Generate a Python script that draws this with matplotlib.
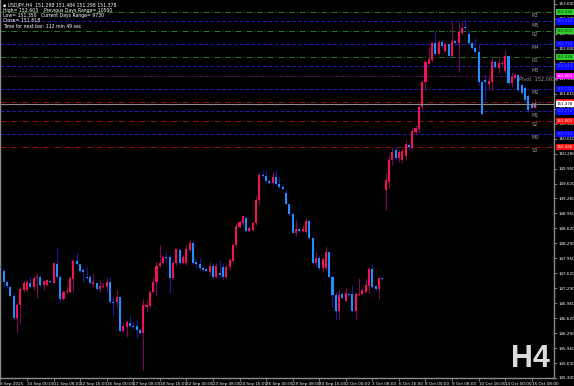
import matplotlib
matplotlib.use("Agg")
import matplotlib.pyplot as plt
import matplotlib.transforms as mtransforms
import numpy as np

# ---------------- data (USDJPY H4) ----------------
opens = [147.79,147.68,147.44,147.32,147.12,146.63,146.92,147.25,147.25,147.41,
         147.32,147.52,147.54,147.37,147.37,147.46,147.41,147.83,147.54,147.05,
         147.21,147.21,147.50,147.90,147.83,147.70,147.54,147.54,147.39,147.41,
         147.28,147.32,147.32,147.44,146.99,146.99,147.09,146.35,146.43,146.52,
         146.46,146.46,146.37,146.30,146.87,146.90,147.21,147.44,147.79,147.85,
         147.99,147.99,147.52,147.85,148.14,147.85,147.85,148.14,148.29,147.88,
         147.83,147.74,147.72,147.66,147.79,147.54,147.63,147.76,147.54,147.76,
         147.90,148.25,148.65,148.74,148.85,148.56,148.58,148.74,149.25,149.81,
         149.78,149.67,149.62,149.76,149.60,149.53,149.40,149.16,148.94,148.51,
         148.60,148.56,148.54,148.79,148.40,147.85,147.96,147.74,147.74,148.10,
         147.54,147.14,146.79,147.16,147.01,147.16,147.16,146.79,147.14,147.16,
         147.21,147.35,147.72,147.35,147.28,147.52,149.47,149.65,150.14,150.36,
         150.18,150.14,150.23,150.47,150.40,150.76,150.82,151.31,151.87,152.27,
         152.36,152.73,152.49,152.76,152.56,152.71,152.45,152.78,152.73,152.95,
         153.09,152.93,152.73,152.62,152.53,151.87,151.91,151.82,151.87,152.32,
         152.18,152.27,152.11,152.45,151.85,151.96,152.02,151.80,151.73,151.56,
         151.36,151.298]
highs = [147.88,147.74,147.48,147.37,147.18,146.99,147.32,147.48,147.48,147.54,
         147.57,147.63,147.59,147.48,147.50,147.48,147.88,148.18,147.59,147.25,
         147.35,147.57,147.94,148.07,147.85,147.74,147.76,147.59,147.61,147.44,
         147.48,147.44,147.52,147.54,147.09,147.25,147.10,146.52,146.59,146.70,
         146.55,146.59,146.41,147.05,147.03,147.25,147.54,147.88,148.25,148.03,
         148.10,148.03,147.92,148.18,148.18,148.03,148.25,148.36,148.34,147.96,
         147.96,147.79,147.74,147.88,147.85,147.85,147.92,147.85,147.81,147.96,
         148.29,148.74,148.81,148.92,148.90,148.67,148.79,149.34,149.88,149.90,
         149.92,149.72,149.88,149.94,149.76,149.58,149.49,149.18,148.96,148.81,
         148.63,148.70,148.85,148.81,148.42,148.10,148.03,147.99,148.23,148.12,
         147.59,147.21,147.25,147.21,147.32,147.18,147.37,147.21,147.52,147.30,
         147.52,147.76,147.81,147.37,147.54,147.54,149.85,150.25,150.40,150.45,
         150.36,150.40,150.58,150.51,150.85,150.91,151.36,151.91,152.36,152.64,
         152.78,152.98,152.80,152.80,152.73,152.73,153.20,152.80,153.20,153.20,
         153.27,153.02,152.76,152.84,152.73,151.91,152.02,152.02,152.42,152.36,
         152.42,152.36,152.58,152.47,152.09,152.07,152.04,151.85,151.80,151.60,
         151.42,151.484]
lows = [147.66,147.32,147.30,147.09,146.59,146.30,146.52,147.21,147.21,147.30,
        147.25,147.07,147.32,147.25,147.35,147.41,147.39,147.52,146.99,147.03,
        147.18,147.18,147.21,147.81,147.66,147.44,147.50,147.39,147.32,147.25,
        147.21,147.30,147.21,146.96,146.70,146.87,146.33,146.33,146.21,146.43,
        146.39,146.19,146.28,145.48,146.77,146.85,147.18,147.14,147.76,147.83,
        147.88,147.18,147.48,147.81,147.83,147.83,147.81,148.10,147.83,147.74,
        147.70,147.68,147.66,147.59,147.52,147.52,147.54,147.48,147.50,147.70,
        147.88,148.20,148.63,148.70,148.54,148.54,148.56,148.70,149.14,149.76,
        149.65,149.60,149.60,149.58,149.51,149.47,149.14,148.92,148.51,148.45,
        148.54,148.54,148.51,148.38,147.83,147.81,147.70,147.66,147.70,147.52,
        146.87,146.59,146.61,147.05,146.99,147.12,146.77,146.59,147.12,147.14,
        147.18,147.18,147.30,147.25,147.05,147.48,149.03,149.51,150.03,150.14,
        150.10,150.07,150.14,150.36,150.36,150.69,150.73,151.25,151.69,152.25,
        152.32,152.47,152.47,152.62,152.54,152.42,152.42,152.69,152.09,152.91,
        153.02,152.71,152.60,152.51,151.80,151.13,151.47,151.69,151.69,152.16,
        152.07,152.22,152.07,151.80,151.76,151.93,151.65,151.58,151.42,151.20,
        151.26,151.298]
closes = [147.74,147.44,147.35,147.12,146.63,146.92,147.28,147.41,147.44,147.32,
          147.52,147.54,147.37,147.46,147.48,147.44,147.85,147.54,147.05,147.21,
          147.23,147.52,147.90,147.83,147.68,147.66,147.52,147.41,147.44,147.28,
          147.35,147.35,147.44,146.99,146.96,147.09,146.35,146.46,146.55,146.46,
          146.43,146.37,146.30,146.92,146.92,147.21,147.44,147.79,147.85,147.99,
          147.96,147.52,147.85,148.16,147.85,147.99,148.16,148.29,147.85,147.83,
          147.74,147.70,147.68,147.79,147.54,147.79,147.59,147.54,147.76,147.92,
          148.25,148.67,148.77,148.90,148.56,148.63,148.74,149.25,149.81,149.78,
          149.67,149.62,149.76,149.60,149.53,149.49,149.16,148.94,148.51,148.60,
          148.56,148.60,148.79,148.40,147.85,147.96,147.74,147.94,148.10,147.54,
          147.14,146.79,147.14,147.07,147.18,147.14,146.79,147.16,147.16,147.25,
          147.37,147.72,147.32,147.28,147.52,147.50,149.69,150.14,150.32,150.18,
          150.32,150.34,150.49,150.42,150.78,150.85,151.31,151.87,152.32,152.38,
          152.73,152.49,152.76,152.67,152.71,152.45,152.78,152.73,152.98,153.07,
          153.07,152.73,152.62,152.53,151.87,151.16,151.87,151.89,152.32,152.20,
          152.29,152.29,152.45,151.85,151.98,152.02,151.69,151.62,151.47,151.25,
          151.30,151.378]

x_tick_labels = ["8 Sep 2025", "10 Sep 00:00", "11 Sep 08:00", "12 Sep 16:00",
                 "16 Sep 00:00", "17 Sep 08:00", "18 Sep 16:00", "22 Sep 00:00",
                 "23 Sep 08:00", "24 Sep 16:00", "26 Sep 00:00", "29 Sep 08:00",
                 "30 Sep 16:00", "2 Oct 00:00", "3 Oct 08:00", "6 Oct 16:00",
                 "8 Oct 00:00", "9 Oct 08:00", "10 Oct 16:00", "14 Oct 00:00",
                 "15 Oct 08:00"]
x_tick_step = 8  # bars between time labels

y_tick_values = [145.300,145.632,145.964,146.296,146.628,146.960,147.292,147.624,
                 147.956,148.288,148.620,148.952,149.284,149.616,149.948,150.280,
                 150.612,150.944,151.276,151.608,151.940,152.272,152.604,152.936,
                 153.268,153.600]
y_tick_labels = ["145.300","145.630","145.960","146.290","146.620","146.960",
                 "147.290","147.620","147.950","148.290","148.620","148.950",
                 "149.280","149.620","149.950","150.280","150.610","150.940",
                 "151.270","151.610","151.940","152.270","152.600","152.940",
                 "153.270","153.600"]

level_names = ["R3", "M5", "R2", "M4", "R1", "M3", "Pivot", "M2", "S1", "M1", "S2", "M0", "S3"]
level_values = [153.426, 153.2145, 153.003, 152.7145, 152.426, 152.2145, 152.003,
                151.7145, 151.426, 151.2145, 151.003, 150.7145, 150.426]
current_price = 151.378

info_lines = ["\u25aa USDJPY,H4  151.298 151.484 151.298 151.378",
              "High= 152.603   .Previous Days Range= 10500",
              "Low= 151.350   Current Days Range= 9730",
              "Close= 151.818",
              "Time for next bar: 112 min 49 sec"]

# ---------------- styling ----------------
W, H = 574, 386
fig = plt.figure(figsize=(W / 100, H / 100), dpi=100, facecolor="black")
ax = fig.add_axes([0, 8 / H, 554 / W, 1 - 8 / H], facecolor="black")

UP_BODY, DN_BODY = "#f5105a", "#1e90ff"
UP_WICK, DN_WICK = "#7a0a5c", "#1c1c96"

n = len(opens)
idx = np.arange(n)
o = np.array(opens); h = np.array(highs); l = np.array(lows); c = np.array(closes)
up = c >= o

# level lines (behind candles)
style = {"R": ("#1f7a1f", (0, (6, 2, 1, 2))),
         "M": ("#1c1cb0", (0, (4, 2))),
         "P": ("#a010a0", (0, (1, 1.5))),
         "S": ("#961010", (0, (6, 2, 1, 2)))}
for name, val in zip(level_names, level_values):
    col, ls = style[name[0]]
    ax.axhline(val, color=col, lw=0.7, ls=ls, zorder=1)

# wicks
ax.vlines(idx[up], l[up], h[up], color=UP_WICK, lw=0.8, zorder=2)
ax.vlines(idx[~up], l[~up], h[~up], color=DN_WICK, lw=0.8, zorder=2)
# bodies
bottoms = np.minimum(o, c)
heights = np.maximum(np.abs(c - o), 0.02)
ax.bar(idx[up], heights[up], bottom=bottoms[up], width=0.62, color=UP_BODY, lw=0, zorder=3)
ax.bar(idx[~up], heights[~up], bottom=bottoms[~up], width=0.62, color=DN_BODY, lw=0, zorder=3)

# current price line
ax.axhline(current_price, color="#8a8a8a", lw=0.8, zorder=4)

ax.set_xlim(-0.12, 166.7)
ax.set_ylim(145.30, 153.688)

# axes/ticks
ax.spines["top"].set_visible(False)
for s in ["left", "right", "bottom"]:
    ax.spines[s].set_color("#8a8a8a")
    ax.spines[s].set_linewidth(1.0)
ax.yaxis.tick_right()
ax.set_yticks(y_tick_values)
ax.set_yticklabels(y_tick_labels)
ax.tick_params(axis="y", colors="#8a8a8a", labelcolor="white", labelsize=3.0,
               length=2, width=0.6, pad=1)
ax.set_xticks(np.arange(len(x_tick_labels)) * x_tick_step)
ax.set_xticklabels(x_tick_labels)
ax.tick_params(axis="x", colors="#8a8a8a", labelcolor="white", labelsize=3.0,
               length=2, width=0.6, pad=0.8)
for t in ax.get_xticklabels():
    t.set_ha("left")

# level labels in the chart
for name, val in zip(level_names, level_values):
    if name == "Pivot":
        ax.text(156.3, val - 0.03, "Pivot  %.4f" % val, color="#9a9a9a", fontsize=3.6,
                va="top", ha="left", zorder=5)
    else:
        ax.text(159.9, val - 0.03, name, color="#9a9a9a", fontsize=3.6,
                va="top", ha="left", zorder=5)

# right axis boxes
trans = mtransforms.blended_transform_factory(ax.transAxes, ax.transData)
box_cols = {"R": ("#2ecc2e", "#0a3a0a"), "M": ("#0a0aff", "#5a5aff"),
            "P": ("#ff10ff", "#ffffff"), "S": ("#ff1010", "#ffffff")}
for name, val in zip(level_names, level_values):
    fc, tc = box_cols[name[0]]
    ax.text(1.005, val, "%.3f" % val, transform=trans, fontsize=2.9, color=tc,
            va="center", ha="left", clip_on=False, zorder=6,
            bbox=dict(boxstyle="square,pad=0.3", fc=fc, ec="none"))
ax.text(1.005, current_price, "%.3f" % current_price, transform=trans, fontsize=2.9,
        color="black", va="center", ha="left", clip_on=False, zorder=7,
        bbox=dict(boxstyle="square,pad=0.3", fc="white", ec="none"))

# info text
for k, line in enumerate(info_lines):
    fig.text(3 / W, 1 - (5 + 5.3 * k) / H, line, color="white", fontsize=3.3,
             va="center", ha="left", family=["DejaVu Sans"])

# timeframe label
fig.text(511 / W, 1 - 367 / H, "H4", color="#dcdcdc", fontsize=22,
         fontweight="bold", family=["Liberation Sans", "DejaVu Sans"],
         ha="left", va="baseline")

fig.savefig("out.png", dpi=100, facecolor="black")
